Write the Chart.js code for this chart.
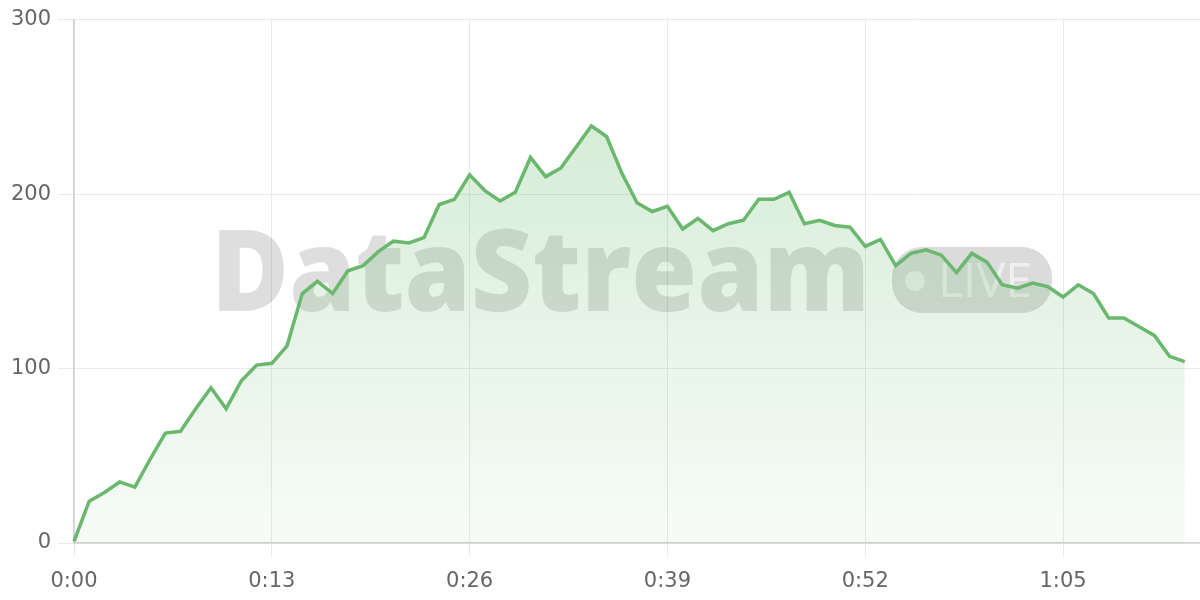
<!DOCTYPE html>
<html>
<head>
<meta charset="utf-8">
<script src="https://cdn.jsdelivr.net/npm/chart.js@4/dist/chart.umd.min.js"></script>
<style>
  html, body { margin: 0; padding: 0; background: #fff; }
  #wrap { width: 1200px; height: 600px; position: relative; }
</style>
</head>
<body>
<div id="wrap"><canvas id="streamChart"></canvas></div>
<script>
const timeLabels = [
  '0:00','0:01','0:02','0:03','0:04','0:05','0:06','0:07','0:08','0:09',
  '0:10','0:11','0:12','0:13','0:14','0:15','0:16','0:17','0:18','0:19',
  '0:20','0:21','0:22','0:23','0:24','0:25','0:26','0:27','0:28','0:29',
  '0:30','0:31','0:32','0:33','0:34','0:35','0:36','0:37','0:38','0:39',
  '0:40','0:41','0:42','0:43','0:44','0:45','0:46','0:47','0:48','0:49',
  '0:50','0:51','0:52','0:53','0:54','0:55','0:56','0:57','0:58','0:59',
  '1:00','1:01','1:02','1:03','1:04','1:05','1:06','1:07','1:08','1:09',
  '1:10','1:11','1:12','1:13','1:14'
];

const viewers = [
  1, 24, 29, 35, 32, 48, 63, 64, 77, 89,
  77, 93, 102, 103, 113, 143, 150, 143, 156, 159,
  167, 173, 172, 175, 194, 197, 211, 202, 196, 201,
  221, 210, 215, 227, 239, 233, 212, 195, 190, 193,
  180, 186, 179, 183, 185, 197, 197, 201, 183, 185,
  182, 181, 170, 174, 159, 166, 168, 165, 155, 166,
  161, 148, 146, 149, 147, 141, 148, 143, 129, 129,
  124, 119, 107, 104
];

const yTicks = [0, 100, 200, 300];
const tickEvery = 13;

const lineColor = '#6ab86e';
const gridColor = '#e9e9e9';
const axisColor = '#d0d0d0';
const labelColor = '#666';

// watermark painted under the line
const watermark = {
  id: 'watermark',
  beforeDatasetsDraw(chart) {
    const ctx = chart.ctx;
    ctx.save();
    ctx.fillStyle = 'rgba(0,0,0,0.13)';
    ctx.font = '800 114px "Open Sans"';
    ctx.textBaseline = 'alphabetic';
    const w = ctx.measureText('DataStream').width;
    ctx.translate(211, 311);
    ctx.scale(659 / w, 1);
    ctx.fillText('DataStream', 0, 0);
    ctx.restore();

    ctx.save();
    ctx.fillStyle = 'rgba(0,0,0,0.14)';
    ctx.beginPath();
    ctx.roundRect(892, 247, 160, 66, 30);
    ctx.fill();
    ctx.fillStyle = 'rgba(255,255,255,0.55)';
    ctx.beginPath();
    ctx.arc(915, 281, 10, 0, Math.PI * 2);
    ctx.fill();
    ctx.font = '400 48px "Open Sans"';
    const lw = ctx.measureText('LIVE').width;
    ctx.translate(938, 297);
    ctx.scale(94 / lw, 1);
    ctx.fillText('LIVE', 0, 0);
    ctx.restore();
  }
};

function areaGradient(context) {
  const { chart } = context;
  const area = chart.chartArea;
  if (!area) return 'rgba(102,187,106,0.15)';
  const g = chart.ctx.createLinearGradient(0, area.top, 0, area.bottom);
  g.addColorStop(0, 'rgba(102,187,106,0.32)');
  g.addColorStop(1, 'rgba(102,187,106,0.05)');
  return g;
}

new Chart(document.getElementById('streamChart'), {
  type: 'line',
  data: {
    labels: timeLabels,
    datasets: [{
      data: viewers,
      borderColor: lineColor,
      borderWidth: 3.5,
      backgroundColor: areaGradient,
      fill: 'origin',
      tension: 0,
      pointRadius: 0
    }]
  },
  options: {
    responsive: true,
    maintainAspectRatio: false,
    animation: false,
    layout: { padding: { top: 19, right: 0, left: 0, bottom: 0 } },
    plugins: { legend: { display: false }, tooltip: { enabled: false } },
    scales: {
      x: {
        offset: false,
        afterFit: s => { s.height = 57; s.paddingLeft = 0; s.paddingRight = 0; },
        border: { color: axisColor, width: 1.5 },
        grid: {
          color: c => c.index % tickEvery === 0 ? gridColor : 'transparent',
          tickColor: c => c.index % tickEvery === 0 ? gridColor : 'transparent',
          tickLength: 14
        },
        ticks: {
          autoSkip: false,
          maxRotation: 0,
          minRotation: 0,
          padding: 12,
          color: labelColor,
          font: { family: 'DejaVu Sans', size: 21 },
          callback: (v, i) => i % tickEvery === 0 ? timeLabels[i] : ''
        }
      },
      y: {
        min: yTicks[0],
        max: yTicks[yTicks.length - 1],
        afterFit: s => { s.width = 74; },
        afterBuildTicks: s => { s.ticks = yTicks.map(v => ({ value: v })); },
        border: { color: axisColor, width: 1.5 },
        grid: { color: gridColor, tickColor: gridColor, tickLength: 16 },
        ticks: {
          padding: 7,
          color: labelColor,
          font: { family: 'DejaVu Sans', size: 21 }
        }
      }
    }
  },
  plugins: [watermark]
});
</script>
</body>
</html>
